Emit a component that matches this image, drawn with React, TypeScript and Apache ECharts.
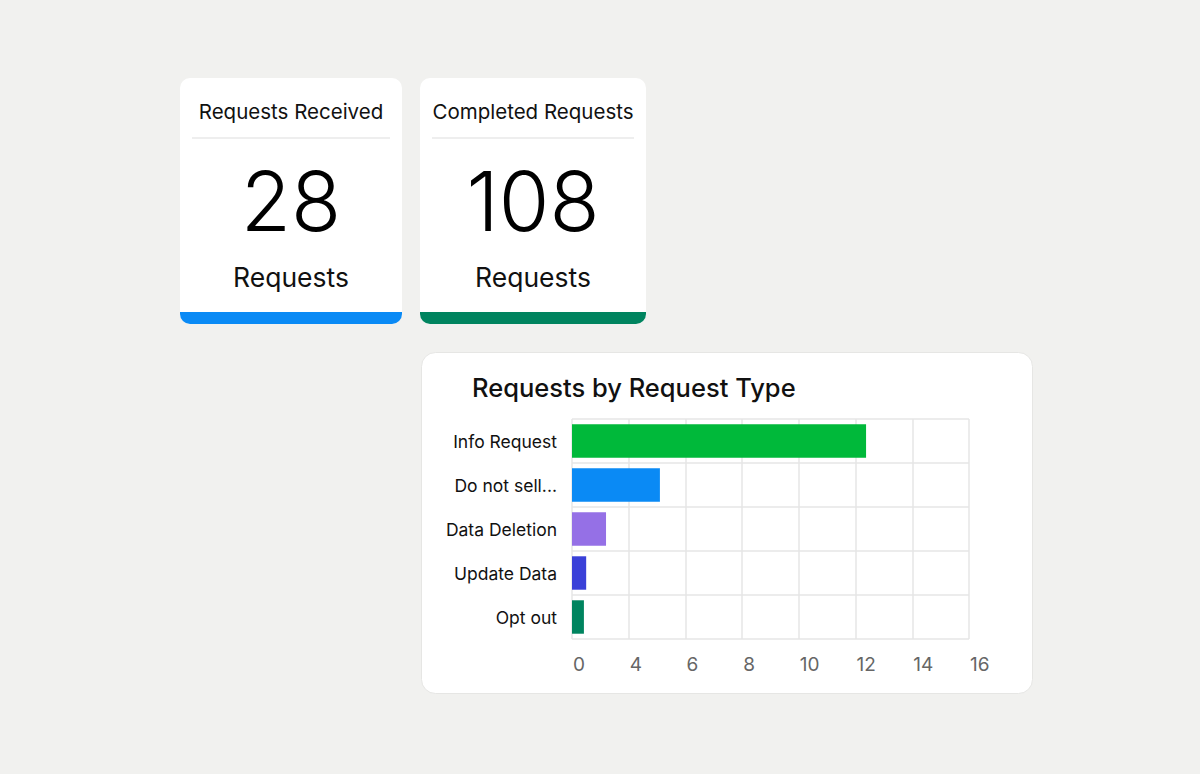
import React, { useEffect, useRef } from "react";
import * as echarts from "echarts";

// KPI cards
const kpiTitles = ["Requests Received", "Completed Requests"];
const kpiValues = [28, 108];
const kpiUnit = "Requests";
const kpiColors = ["#0a8af5", "#00845f"];

// Bar chart
const chartTitle = "Requests by Request Type";
const categories = ["Info Request", "Do not sell...", "Data Deletion", "Update Data", "Opt out"];
// values read against the drawn grid (first gridline is labelled "0" in the reference)
const values = [12.37, 5.1, 3.2, 2.5, 2.42];
const barColors = ["#00b93a", "#0a8af5", "#9570e6", "#3a40d8", "#00845f"];
const tickValues = [2, 4, 6, 8, 10, 12, 14, 16];
const tickLabels = ["0", "4", "6", "8", "10", "12", "14", "16"];

const FONT = "Inter, Liberation Sans, Arial, sans-serif";

export default function App() {
  const ref = useRef<HTMLDivElement>(null);
  useEffect(() => {
    document.body.style.margin = "0";
    const chart = echarts.init(ref.current!, null, { renderer: "svg" });
    const cardX = [180, 420];
    const cardW = [222, 226];
    const graphics: any[] = [];
    kpiTitles.forEach((t, i) => {
      const x = cardX[i];
      const w = cardW[i];
      const cx = x + w / 2;
      graphics.push(
        { type: "rect", shape: { x, y: 78, width: w, height: 246, r: 10 }, style: { fill: "#ffffff" }, z: 1 },
        { type: "rect", shape: { x, y: 312, width: w, height: 12, r: [0, 0, 10, 10] }, style: { fill: kpiColors[i] }, z: 2 },
        { type: "line", shape: { x1: x + 12, y1: 138, x2: x + w - 12, y2: 138 }, style: { stroke: "#e8e8e8", lineWidth: 1.5 }, z: 2 },
        { type: "text", x: cx, y: 111, style: { text: t, font: `20.5px ${FONT}`, fill: "#111", align: "center", verticalAlign: "middle" }, z: 3 },
        { type: "text", x: cx, y: 201, style: { text: String(kpiValues[i]), font: `300 82px ${FONT}`, fill: "#000", align: "center", verticalAlign: "middle" }, z: 3 },
        { type: "text", x: cx, y: 277, style: { text: kpiUnit, font: `26.5px ${FONT}`, fill: "#111", align: "center", verticalAlign: "middle" }, z: 3 }
      );
    });
    graphics.push(
      { type: "rect", shape: { x: 421.5, y: 352.5, width: 611, height: 341, r: 14 }, style: { fill: "#ffffff", stroke: "#e6e6e4", lineWidth: 1 }, z: 0 },
      { type: "text", x: 472, y: 387, style: { text: chartTitle, font: `500 25.5px ${FONT}`, fill: "#111", align: "left", verticalAlign: "middle" }, z: 3 }
    );

    chart.setOption({
      animation: false,
      backgroundColor: "#f1f1ef",
      graphic: { elements: graphics },
      grid: { left: 572, top: 419, width: 397, height: 220, containLabel: false },
      xAxis: {
        type: "value",
        min: tickValues[0],
        max: tickValues[tickValues.length - 1],
        interval: 2,
        axisLine: { show: false },
        axisTick: { show: false },
        splitLine: { show: true, lineStyle: { color: "#e6e6e6", width: 1.5 } },
        axisLabel: {
          color: "#666",
          fontSize: 19,
          fontFamily: FONT,
          margin: 16,
          align: "left",
          padding: [0, 0, 0, 1],
          showMinLabel: true,
          showMaxLabel: true,
          formatter: (v: number) => {
            const idx = tickValues.indexOf(v);
            return idx >= 0 ? tickLabels[idx] : "";
          },
        },
      },
      yAxis: {
        type: "category",
        inverse: true,
        data: categories,
        axisLine: { show: false },
        axisTick: { show: false },
        splitLine: { show: true, lineStyle: { color: "#e6e6e6", width: 1.5 } },
        axisLabel: { color: "#111", fontSize: 17.5, fontFamily: FONT, margin: 15 },
      },
      series: [
        {
          type: "bar",
          barWidth: "76%",
          data: values.map((v, i) => ({ value: v, itemStyle: { color: barColors[i] } })),
        },
      ],
    });
    return () => chart.dispose();
  }, []);
  return <div ref={ref} style={{ position: "absolute", left: 0, top: 0, width: 1200, height: 774 }} />;
}
